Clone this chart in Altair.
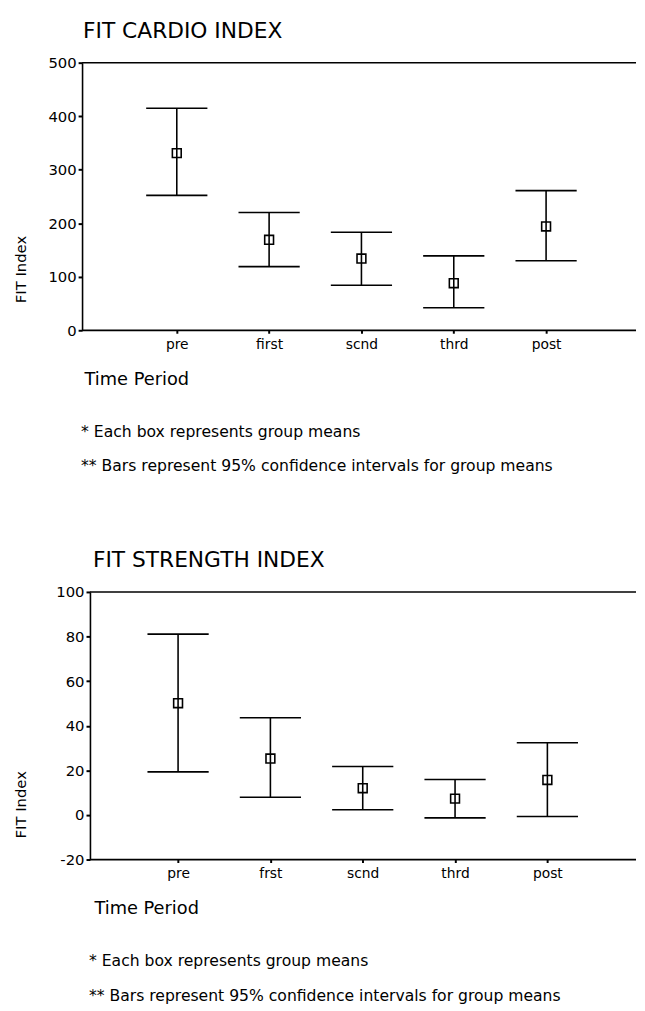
import altair as alt
import pandas as pd

FONT = "DejaVu Sans"

# ---- data ----
cardio_periods = ["pre", "first", "scnd", "thrd", "post"]
cardio_mean = [331, 169, 134, 88, 194]
cardio_low = [252, 119, 84, 42, 130]
cardio_high = [415, 220, 183, 139, 261]
cardio_ticks = [0, 100, 200, 300, 400, 500]
cardio_domain = [0, 500]

strength_periods = ["pre", "frst", "scnd", "thrd", "post"]
strength_mean = [50.1, 25.3, 12.0, 7.3, 15.7]
strength_low = [19.3, 7.9, 2.3, -1.3, -0.7]
strength_high = [81.1, 43.6, 21.7, 15.9, 32.4]
strength_ticks = [-20, 0, 20, 40, 60, 80, 100]
strength_domain = [-20, 100]

panel_titles = ["FIT CARDIO INDEX", "FIT STRENGTH INDEX"]
x_title = "Time Period"
y_title = "FIT Index"
notes = ["* Each box represents group means",
         "** Bars represent 95% confidence intervals for group means"]

H = 271
W = 561


def panel(cats, mean, lo, hi, ticks, dom, title, shift, pad, align,
          ytitle_y, text_x, note_x):
    df = pd.DataFrame({"period": cats, "mean": mean, "lo": lo, "hi": hi})

    x_axis = alt.Axis(
        title=x_title, labelAngle=0, labelFont=FONT, labelFontSize=14,
        labelColor="black", labelPadding=4, tickSize=3, tickWidth=2,
        tickColor="black", domain=False,
        grid=False, titleFont=FONT, titleFontSize=18,
        titleFontWeight="normal", titleColor="black", titleAnchor="start",
        titleAlign="left", titleX=text_x + 1, titleY=50,
        titleBaseline="middle")
    x_scale = alt.Scale(type="point", padding=pad, align=align)
    y_axis = alt.Axis(
        values=ticks, labelExpr="'' + datum.value", title=y_title,
        labelFont=FONT, labelFontSize=15, labelColor="black",
        labelPadding=2, tickSize=4, tickWidth=2, tickColor="black",
        domainColor="black", domainWidth=1.6, grid=False, offset=-shift,
        titleFont=FONT, titleFontSize=15, titleFontWeight="normal",
        titleColor="black", titleAngle=270, titleX=-62 - shift,
        titleY=ytitle_y, titleAlign="center", titleBaseline="middle")
    y_scale = alt.Scale(domain=dom, nice=False, zero=False)

    def X():
        return alt.X("period:N", sort=cats, scale=x_scale, axis=x_axis)

    def Y(field):
        return alt.Y(field, type="quantitative", scale=y_scale, axis=y_axis)

    base = alt.Chart(df)
    bars = base.mark_rule(color="black", strokeWidth=1.6).encode(
        x=X(), y=Y("lo"), y2="hi:Q")
    cap_hi = base.mark_tick(color="black", thickness=1.6, size=62,
                            opacity=1).encode(x=X(), y=Y("hi"))
    cap_lo = base.mark_tick(color="black", thickness=1.6, size=62,
                            opacity=1).encode(x=X(), y=Y("lo"))
    pts = base.mark_point(shape="square", filled=False, size=80,
                          color="black", strokeWidth=1.6,
                          opacity=1).encode(x=X(), y=Y("mean"))

    one = pd.DataFrame({"k": [0]})
    frame_top = alt.Chart(one).mark_rule(
        color="black", strokeWidth=1.6).encode(
        x=alt.value(shift), x2=alt.value(W), y=alt.value(0))
    frame_bottom = alt.Chart(one).mark_rule(
        color="black", strokeWidth=1.8).encode(
        x=alt.value(shift), x2=alt.value(W), y=alt.value(H))

    ttl = alt.Chart(pd.DataFrame({"t": [title]})).mark_text(
        font=FONT, fontSize=22, color="black", align="left",
        baseline="alphabetic").encode(
        text="t:N", x=alt.value(text_x), y=alt.value(-25))

    n1 = alt.Chart(pd.DataFrame({"t": [notes[0]]})).mark_text(
        font=FONT, fontSize=15.8, color="black", align="left",
        baseline="middle").encode(
        text="t:N", x=alt.value(note_x), y=alt.value(H + 103))
    n2 = alt.Chart(pd.DataFrame({"t": [notes[1]]})).mark_text(
        font=FONT, fontSize=15.8, color="black", align="left",
        baseline="middle").encode(
        text="t:N", x=alt.value(note_x), y=alt.value(H + 138))

    return alt.layer(frame_top, frame_bottom, bars, cap_hi, cap_lo, pts,
                     ttl, n1, n2).properties(width=W, height=H)


top = panel(cardio_periods, cardio_mean, cardio_low, cardio_high,
            cardio_ticks, cardio_domain, panel_titles[0], 0, 1.1, 0.513,
            209, 1, -1)
bottom = panel(strength_periods, strength_mean, strength_low, strength_high,
               strength_ticks, strength_domain, panel_titles[1], 8, 1.143,
               0.52, 215, 11, 7)

chart = alt.vconcat(top, bottom, spacing=76).properties(
    padding={"left": 6, "top": 6, "right": 0, "bottom": 0}
).configure_view(stroke=None)

chart.save("out.html", embed_options={"renderer": "svg", "actions": False})
